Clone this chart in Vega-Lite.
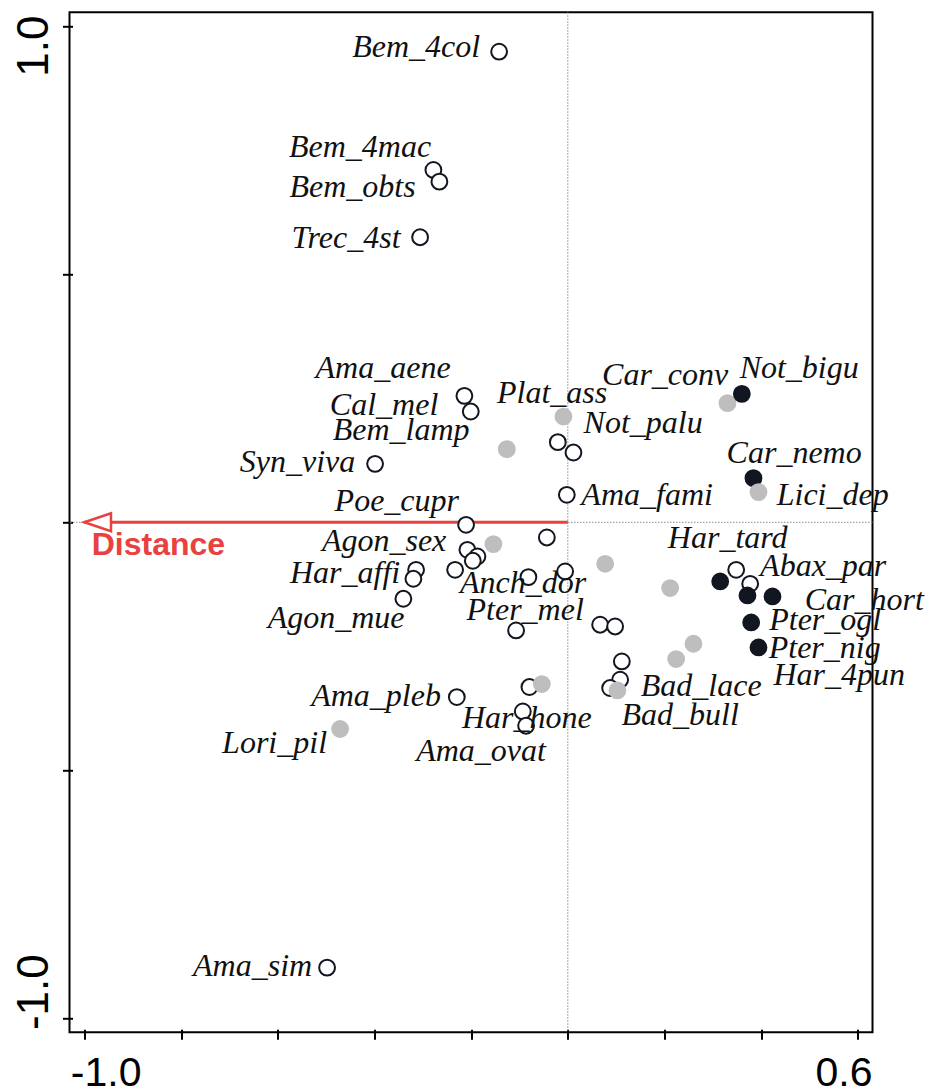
{
  "$schema": "https://vega.github.io/schema/vega-lite/v6.json",
  "width": 803,
  "height": 1020,
  "autosize": "none",
  "padding": {"left": 69.5, "top": 12.3, "right": 56.5, "bottom": 58.7},
  "background": "white",
  "config": {
    "view": {"stroke": "black", "strokeWidth": 2},
    "axis": {
      "grid": false,
      "domain": false,
      "title": null,
      "tickColor": "black",
      "tickWidth": 2,
      "tickSize": 10,
      "offset": -3,
      "labelColor": "black",
      "labelFont": "Liberation Sans",
      "labelFontSize": 41
    }
  },
  "datasets": {
    "points": [
      {"x": -0.1421, "y": 0.9482, "group": 1},
      {"x": -0.2780, "y": 0.7100, "group": 1},
      {"x": -0.2656, "y": 0.6864, "group": 1},
      {"x": -0.3055, "y": 0.5744, "group": 1},
      {"x": -0.2139, "y": 0.2548, "group": 1},
      {"x": -0.2007, "y": 0.2232, "group": 1},
      {"x": -0.0207, "y": 0.1615, "group": 1},
      {"x": 0.0116, "y": 0.1406, "group": 1},
      {"x": -0.3986, "y": 0.1178, "group": 1},
      {"x": -0.0021, "y": 0.0554, "group": 1},
      {"x": -0.2104, "y": -0.0050, "group": 1},
      {"x": -0.0434, "y": -0.0306, "group": 1},
      {"x": -0.2077, "y": -0.0554, "group": 1},
      {"x": -0.1870, "y": -0.0689, "group": 1},
      {"x": -0.1965, "y": -0.0775, "group": 1},
      {"x": -0.2331, "y": -0.0957, "group": 1},
      {"x": -0.3138, "y": -0.0957, "group": 1},
      {"x": -0.3194, "y": -0.1138, "group": 1},
      {"x": -0.3401, "y": -0.1541, "group": 1},
      {"x": -0.0815, "y": -0.1104, "group": 1},
      {"x": -0.0056, "y": -0.0991, "group": 1},
      {"x": -0.1070, "y": -0.2179, "group": 1},
      {"x": 0.0668, "y": -0.2064, "group": 1},
      {"x": 0.0978, "y": -0.2099, "group": 1},
      {"x": 0.1117, "y": -0.2804, "group": 1},
      {"x": 0.1082, "y": -0.3172, "group": 1},
      {"x": 0.0875, "y": -0.3339, "group": 1},
      {"x": -0.0794, "y": -0.3319, "group": 1},
      {"x": -0.2296, "y": -0.3521, "group": 1},
      {"x": -0.0931, "y": -0.3811, "group": 1},
      {"x": -0.0863, "y": -0.4099, "group": 1},
      {"x": 0.3482, "y": -0.0957, "group": 1},
      {"x": 0.3771, "y": -0.1239, "group": 1},
      {"x": -0.4979, "y": -0.8973, "group": 1},
      {"x": -0.0091, "y": 0.2131, "group": 2},
      {"x": -0.1262, "y": 0.1474, "group": 2},
      {"x": 0.3302, "y": 0.2401, "group": 2},
      {"x": -0.1539, "y": -0.0439, "group": 2},
      {"x": 0.0772, "y": -0.0836, "group": 2},
      {"x": 0.2116, "y": -0.1325, "group": 2},
      {"x": 0.2598, "y": -0.2447, "group": 2},
      {"x": 0.2240, "y": -0.2755, "group": 2},
      {"x": 0.1026, "y": -0.3388, "group": 2},
      {"x": -0.0538, "y": -0.3259, "group": 2},
      {"x": -0.4710, "y": -0.4165, "group": 2},
      {"x": 0.3599, "y": 0.2588, "group": 3},
      {"x": 0.3839, "y": 0.0890, "group": 3},
      {"x": 0.3943, "y": 0.0608, "group": 2},
      {"x": 0.3151, "y": -0.1192, "group": 3},
      {"x": 0.3715, "y": -0.1474, "group": 3},
      {"x": 0.4233, "y": -0.1494, "group": 3},
      {"x": 0.3792, "y": -0.2018, "group": 3},
      {"x": 0.3943, "y": -0.2522, "group": 3}
    ],
    "labels": [
      {"species": "Bem_4col", "x": -0.3138, "y": 0.9382},
      {"species": "Bem_4mac", "x": -0.4297, "y": 0.7368},
      {"species": "Bem_obts", "x": -0.4452, "y": 0.6562},
      {"species": "Trec_4st", "x": -0.4586, "y": 0.5523},
      {"species": "Ama_aene", "x": -0.3821, "y": 0.2904},
      {"species": "Cal_mel", "x": -0.3800, "y": 0.2165},
      {"species": "Plat_ass", "x": -0.0325, "y": 0.2401},
      {"species": "Bem_lamp", "x": -0.3448, "y": 0.1662},
      {"species": "Syn_viva", "x": -0.5590, "y": 0.1023},
      {"species": "Ama_fami", "x": 0.1640, "y": 0.0352},
      {"species": "Poe_cupr", "x": -0.3537, "y": 0.0218},
      {"species": "Car_conv", "x": 0.2013, "y": 0.2769},
      {"species": "Not_bigu", "x": 0.4785, "y": 0.2904},
      {"species": "Not_palu", "x": 0.1558, "y": 0.1797},
      {"species": "Car_nemo", "x": 0.4681, "y": 0.1192},
      {"species": "Lici_dep", "x": 0.5478, "y": 0.0352},
      {"species": "Agon_sex", "x": -0.3800, "y": -0.0588},
      {"species": "Har_affi", "x": -0.4607, "y": -0.1225},
      {"species": "Agon_mue", "x": -0.4793, "y": -0.2131},
      {"species": "Anch_dor", "x": -0.0925, "y": -0.1426},
      {"species": "Pter_mel", "x": -0.0883, "y": -0.1964},
      {"species": "Har_tard", "x": 0.3306, "y": -0.0520},
      {"species": "Abax_par", "x": 0.5281, "y": -0.1092},
      {"species": "Car_hort", "x": 0.6130, "y": -0.1762},
      {"species": "Pter_ogl", "x": 0.5323, "y": -0.2165},
      {"species": "Pter_nig", "x": 0.5312, "y": -0.2735},
      {"species": "Har_4pun", "x": 0.5612, "y": -0.3273},
      {"species": "Bad_lace", "x": 0.2758, "y": -0.3509},
      {"species": "Bad_bull", "x": 0.2323, "y": -0.4079},
      {"species": "Ama_pleb", "x": -0.3966, "y": -0.3710},
      {"species": "Har_hone", "x": -0.0848, "y": -0.4145},
      {"species": "Ama_ovat", "x": -0.1794, "y": -0.4818},
      {"species": "Lori_pil", "x": -0.6065, "y": -0.4649},
      {"species": "Ama_sim", "x": -0.6520, "y": -0.9134}
    ],
    "vectors": [
      {"variable": "Distance", "x0": 0, "y0": 0, "x": -1.0, "y": 0, "lx": -0.9847, "ly": -0.0655}
    ]
  },
  "encoding": {
    "x": {
      "type": "quantitative",
      "scale": {"domain": [-1.0306, 0.6301], "nice": false, "zero": false},
      "axis": {
        "values": [-1, -0.8, -0.6, -0.4, -0.2, 0, 0.2, 0.4, 0.6],
        "labelExpr": "datum.value == -1 ? '-1.0' : (abs(datum.value - 0.6) < 1e-6 ? '0.6' : '')",
        "labelFlush": 20,
        "labelFlushOffset": 14,
        "labelPadding": 46,
        "labelBaseline": "alphabetic"
      }
    },
    "y": {
      "type": "quantitative",
      "scale": {"domain": [-1.0276, 1.0276], "nice": false, "zero": false},
      "axis": {
        "values": [-1, -0.5, 0, 0.5, 1],
        "labelExpr": "datum.value == 1 ? '1.0' : (datum.value == -1 ? '-1.0' : '')",
        "labelFontSize": 44,
        "labelAngle": -90,
        "labelAlign": {"condition": {"test": "datum.value > 0", "value": "right"}, "value": "left"},
        "labelOffset": {"condition": {"test": "datum.value > 0", "value": -11}, "value": 11},
        "labelBaseline": "alphabetic",
        "labelPadding": 15.5
      }
    }
  },
  "layer": [
    {
      "data": {"values": [{"v": 0}]},
      "mark": {"type": "rule", "color": "#8c8c8c", "strokeWidth": 1, "strokeDash": [1.5, 1.5]},
      "encoding": {"y": {"field": "v", "type": "quantitative"}, "x": null}
    },
    {
      "data": {"values": [{"v": 0}]},
      "mark": {"type": "rule", "color": "#8c8c8c", "strokeWidth": 1, "strokeDash": [1.5, 1.5]},
      "encoding": {"x": {"field": "v", "type": "quantitative"}, "y": null}
    },
    {
      "data": {"name": "vectors"},
      "mark": {"type": "rule", "color": "#e8413f", "strokeWidth": 3},
      "encoding": {
        "x": {"field": "x0", "type": "quantitative"},
        "x2": {"field": "x"},
        "y": {"field": "y0", "type": "quantitative"}
      }
    },
    {
      "data": {"name": "vectors"},
      "mark": {
        "type": "point",
        "shape": "M0,0 L26.7,-9 L26.7,9 Z",
        "size": 4,
        "filled": false,
        "fill": "white",
        "fillOpacity": 1,
        "stroke": "#e8413f",
        "strokeWidth": 2.5,
        "opacity": 1
      },
      "encoding": {
        "x": {"field": "x", "type": "quantitative"},
        "y": {"field": "y", "type": "quantitative"}
      }
    },
    {
      "data": {"name": "points"},
      "mark": {"type": "point", "shape": "circle", "size": 250, "strokeWidth": 2, "opacity": 1, "fillOpacity": 1, "strokeOpacity": 1},
      "encoding": {
        "x": {"field": "x", "type": "quantitative"},
        "y": {"field": "y", "type": "quantitative"},
        "fill": {"field": "group", "type": "nominal", "scale": {"domain": [1, 2, 3], "range": ["white", "#bebebe", "#111620"]}, "legend": null},
        "stroke": {"field": "group", "type": "nominal", "scale": {"domain": [1, 2, 3], "range": ["#111620", "#bebebe", "#111620"]}, "legend": null}
      }
    },
    {
      "data": {"name": "labels"},
      "mark": {"type": "text", "font": "Liberation Serif", "fontStyle": "italic", "fontSize": 32, "align": "center", "baseline": "alphabetic", "color": "#111111"},
      "encoding": {
        "x": {"field": "x", "type": "quantitative"},
        "y": {"field": "y", "type": "quantitative"},
        "text": {"field": "species", "type": "nominal"}
      }
    },
    {
      "data": {"name": "vectors"},
      "mark": {"type": "text", "font": "Liberation Sans", "fontWeight": "bold", "fontSize": 32, "align": "left", "baseline": "alphabetic", "color": "#e8413f"},
      "encoding": {
        "x": {"field": "lx", "type": "quantitative"},
        "y": {"field": "ly", "type": "quantitative"},
        "text": {"field": "variable", "type": "nominal"}
      }
    }
  ]
}
